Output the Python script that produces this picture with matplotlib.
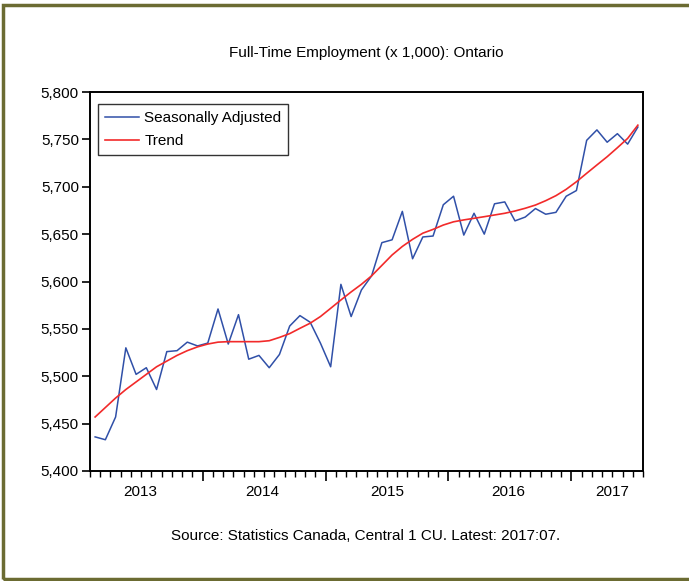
import matplotlib
matplotlib.use("Agg")
import matplotlib.pyplot as plt
from matplotlib.patches import Rectangle
from matplotlib.ticker import FuncFormatter, FixedLocator

plt.rcParams['font.family'] = ['Liberation Sans', 'DejaVu Sans']

# Monthly observations 2013:02 .. 2017:07
start_year, start_month = 2013, 2
seasonally_adjusted = [
    5436, 5433, 5457, 5530, 5502, 5509, 5486, 5526, 5527, 5536, 5532,   # 2013
    5535, 5571, 5534, 5565, 5518, 5522, 5509, 5523, 5553, 5564, 5557, 5535,  # 2014
    5510, 5597, 5563, 5591, 5606, 5641, 5644, 5674, 5624, 5647, 5648, 5681,  # 2015
    5690, 5649, 5672, 5650, 5682, 5684, 5664, 5668, 5677, 5671, 5673, 5690,  # 2016
    5696, 5749, 5760, 5747, 5756, 5745, 5763,                                # 2017
]
trend = [
    5457, 5467, 5477, 5486, 5494, 5502, 5510, 5516, 5522, 5527, 5531,
    5534, 5536, 5536.5, 5536.5, 5536.5, 5536.5, 5537.5, 5541, 5545, 5550.6, 5556, 5563,
    5571.7, 5580.5, 5589, 5597, 5606, 5617, 5628, 5637, 5644.5, 5651, 5655, 5659.6,
    5663, 5665, 5666.7, 5668.4, 5670.2, 5672, 5674.4, 5677.3, 5680.7, 5685.3, 5690.6, 5697.3,
    5705.3, 5714.2, 5723, 5731.7, 5741.2, 5751, 5765,
]
year_labels = ["2013", "2014", "2015", "2016", "2017"]
y_ticks = [5400, 5450, 5500, 5550, 5600, 5650, 5700, 5750, 5800]

title = "Full-Time Employment (x 1,000): Ontario"
source = "Source: Statistics Canada, Central 1 CU. Latest: 2017:07."

n = len(seasonally_adjusted)
x = list(range(n))

fig = plt.figure(figsize=(6.89, 5.81), dpi=100)
fig.patch.set_facecolor('white')

# outer olive frame
fig.add_artist(Rectangle((3/689, 1 - 579/581), 1.0, 574/581, transform=fig.transFigure,
                         fill=False, edgecolor='#6b6b32', linewidth=2.5))

ax = fig.add_axes([90/689, 1 - 471/581, 553/689, 379/581])
ax.plot(x, seasonally_adjusted, color='#3050a8', linewidth=1.1, label='Seasonally Adjusted')
ax.plot(x, trend, color='#f22a2a', linewidth=1.2, label='Trend')

ax.set_xlim(-0.5, n - 0.5)
ax.set_ylim(5400, 5800)
ax.set_yticks(y_ticks)
ax.yaxis.set_major_formatter(FuncFormatter(lambda v, p: f"{int(v):,}"))

# month boundaries as minor ticks, year boundaries as major ticks
boundaries = [i - 0.5 for i in range(n + 1)]
year_bounds = [i - 0.5 for i in range(n) if (start_month - 1 + i) % 12 == 0 and i > 0]
ax.xaxis.set_major_locator(FixedLocator(year_bounds))
ax.xaxis.set_minor_locator(FixedLocator([b for b in boundaries if b not in year_bounds]))
ax.set_xticklabels([])
ax.tick_params(axis='x', which='major', direction='out', length=7, width=1.2, color='black')
ax.tick_params(axis='x', which='minor', direction='out', length=4, width=1.0, color='black')
ax.tick_params(axis='y', which='major', direction='out', length=6, width=1.2, pad=2,
               labelsize=11, color='black')

# year labels centred in each year's span
edges = [-0.5] + year_bounds + [n - 0.5]
label_shift = [-0.6, -0.2, 0.0, -0.2, 0.5]
for lab, a, b, s in zip(year_labels, edges[:-1], edges[1:], label_shift):
    ax.text((a + b) / 2 + s, -0.055, lab, transform=ax.get_xaxis_transform(),
            ha='center', va='center', fontsize=11)

for s in ax.spines.values():
    s.set_linewidth(1.4)
    s.set_color('black')

leg = ax.legend(loc='upper left', bbox_to_anchor=(0.015, 0.968), borderaxespad=0,
                frameon=True, fancybox=False, edgecolor='black', fontsize=11,
                handlelength=2.2, handletextpad=0.35, borderpad=0.45, labelspacing=0.62)
leg.get_frame().set_linewidth(1.0)

fig.text(366/689, 1 - 53/581, title, ha='center', va='center', fontsize=11)
fig.text(366/689, 1 - 536/581, source, ha='center', va='center', fontsize=11)

fig.savefig('out.png', dpi=100)
